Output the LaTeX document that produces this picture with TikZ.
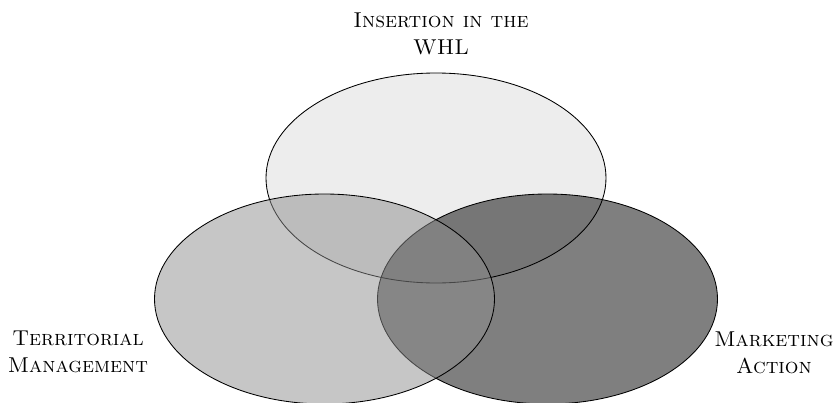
\documentclass[tikz,border=0pt]{standalone}
\usetikzlibrary{shapes.geometric}
\definecolor{topfill}{RGB}{237,237,237}
\definecolor{leftfill}{RGB}{141,141,141}
\definecolor{rightfill}{RGB}{0,0,0}
\tikzset{
  venn/.style={ellipse, draw=black, line width=0.85pt, minimum width=340pt, minimum height=210pt, inner sep=0pt},
  lbl/.style={align=center, font=\fontsize{21.5}{27}\selectfont\scshape, text=black, inner sep=0pt}
}
\begin{document}
\begin{tikzpicture}[x=1pt,y=-1pt]
\useasboundingbox (0,0) rectangle (836,402);
\begin{scope}
\clip (0,0) rectangle (836,402);
\node[venn, fill=topfill] (top) at (436,178) {};
\node[venn, fill=rightfill, fill opacity=0.5] (right) at (547.5,299) {};
\node[venn, fill=leftfill, fill opacity=0.5] (left) at (324.5,299) {};
\end{scope}
\node[lbl] (ltop) at (441,34) {Insertion in the\\WHL};
\node[lbl] (lleft) at (78,352) {Territorial\\Management};
\node[lbl] (lright) at (774,353) {Marketing\\Action};
\end{tikzpicture}
\end{document}
